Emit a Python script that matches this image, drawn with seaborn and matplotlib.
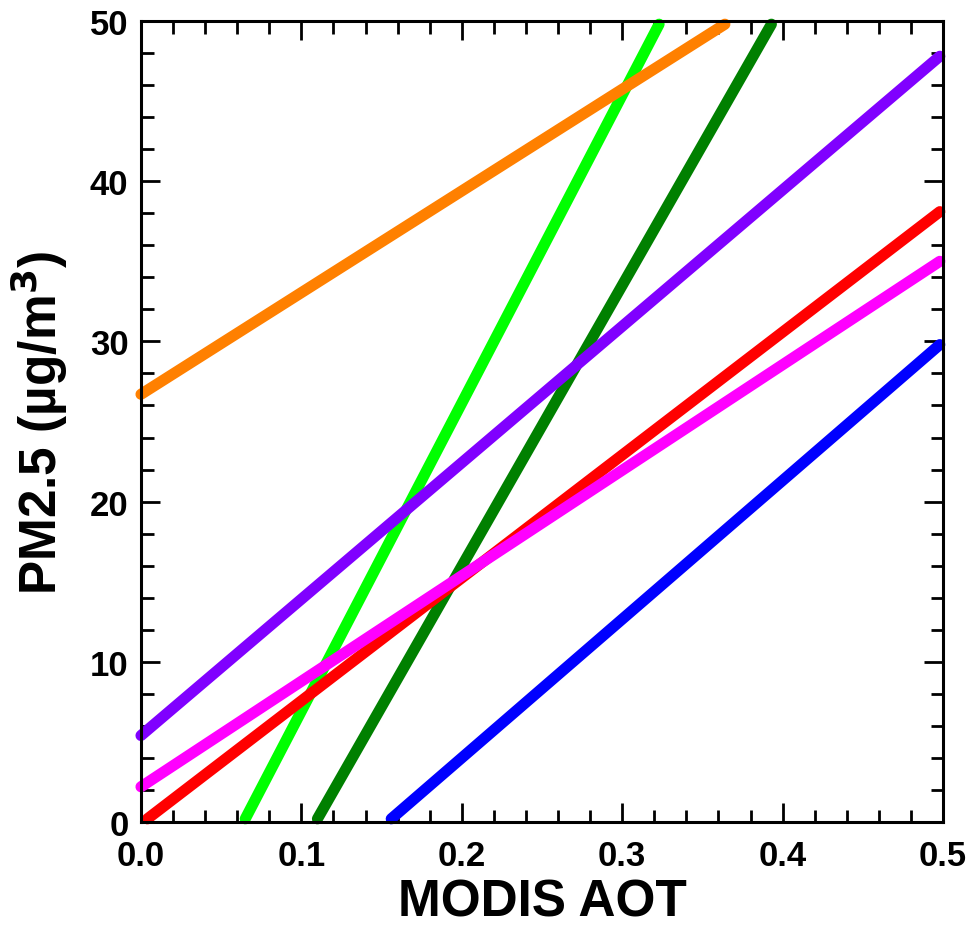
import pandas as pd
import matplotlib
matplotlib.use("Agg")
import matplotlib.pyplot as plt
from matplotlib.ticker import MultipleLocator
import seaborn as sns

# regression lines, endpoints (drawn in this order)
names = ['lime', 'darkgreen', 'red', 'magenta', 'purple', 'orange', 'blue']
colors = ['#00ff00', '#008000', '#ff0000', '#ff00ff', '#8000ff', '#ff8000', '#0000ff']
x_start = [0.065, 0.110, 0.004, 0.000, 0.000, 0.000, 0.156]
y_start = [0.2, 0.2, 0.2, 2.2, 5.4, 26.7, 0.2]
x_end = [0.323, 0.393, 0.498, 0.498, 0.498, 0.364, 0.498]
y_end = [49.8, 49.8, 38.1, 35.0, 47.8, 49.8, 29.8]

xticks = [0.0, 0.1, 0.2, 0.3, 0.4, 0.5]
xticklabels = ['0.0', '0.1', '0.2', '0.3', '0.4', '0.5']
yticks = [0, 10, 20, 30, 40, 50]

rows = []
for i, n in enumerate(names):
    rows.append({'line': n, 'x': x_start[i], 'y': y_start[i]})
    rows.append({'line': n, 'x': x_end[i], 'y': y_end[i]})
df = pd.DataFrame(rows)

sns.set_style("ticks")
plt.rcParams['font.family'] = ['Liberation Sans', 'DejaVu Sans']
plt.rcParams['font.weight'] = 'bold'
plt.rcParams['text.color'] = 'black'
plt.rcParams['axes.labelcolor'] = 'black'
plt.rcParams['xtick.color'] = 'black'
plt.rcParams['ytick.color'] = 'black'

fig = plt.figure(figsize=(9.69, 9.28), dpi=100)
ax = fig.add_axes([0.1455, 0.1131, 0.8277, 0.8632])

sns.lineplot(data=df, x='x', y='y', hue='line', hue_order=names,
             palette=dict(zip(names, colors)), linewidth=8,
             solid_capstyle='round', legend=False, ax=ax, clip_on=False,
             estimator=None, sort=False)

ax.set_xlim(0, 0.5)
ax.set_ylim(0, 50)
ax.set_xticks(xticks)
ax.set_xticklabels(xticklabels)
ax.set_yticks(yticks)
ax.xaxis.set_minor_locator(MultipleLocator(0.02))
ax.yaxis.set_minor_locator(MultipleLocator(2))
ax.tick_params(which='both', direction='in', top=True, right=True, width=2,
               color='black', labelcolor='black')
ax.tick_params(which='major', length=14, labelsize=25)
ax.tick_params(axis='x', which='major', pad=12)
ax.tick_params(axis='y', which='major', pad=9)
ax.tick_params(which='minor', length=9)
for lab in ax.get_xticklabels() + ax.get_yticklabels():
    lab.set_fontweight('bold')
for s in ax.spines.values():
    s.set_linewidth(2.2)
    s.set_color('black')

ax.set_xlabel('MODIS AOT', fontsize=37, fontweight='bold', labelpad=4, color='black')
ax.set_ylabel('PM2.5 (µg/m$^\\mathbf{3}$)', fontsize=37, fontweight='bold', labelpad=14, color='black')

fig.savefig('out.png', dpi=100)
